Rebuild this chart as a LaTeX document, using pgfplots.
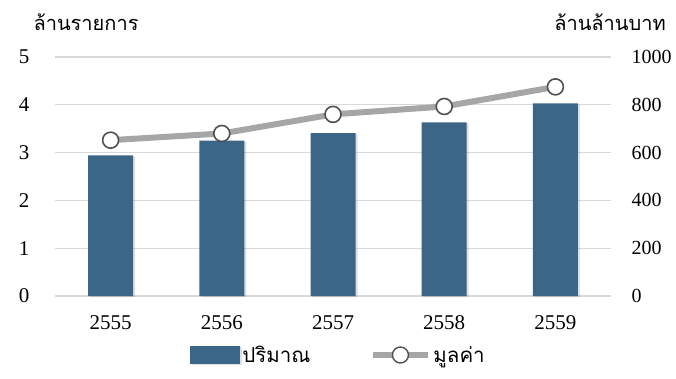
\documentclass[border=0pt]{standalone}
\usepackage{fontspec}
\setmainfont{Liberation Serif}
\newfontfamily\thai[Script=Thai]{Loma}
\usepackage{pgfplots}
\pgfplotsset{compat=1.18}
\usetikzlibrary{shadows}
\definecolor{barblue}{HTML}{3C6688}
\definecolor{linegray}{HTML}{A6A6A6}
\definecolor{gridgray}{HTML}{D9D9D9}
\definecolor{markgray}{HTML}{505050}
\begin{document}
\begin{tikzpicture}
\begin{axis}[
  scale only axis, width=556pt, height=239pt,
  xmin=-0.5, xmax=4.5, ymin=0, ymax=5,
  clip=false,
  axis line style={draw=none},
  xtick={0,1,2,3,4}, xticklabels={2555,2556,2557,2558,2559},
  ytick={0,1,2,3,4,5},
  tick style={draw=none},
  ymajorgrids, grid style={gridgray, line width=1.2pt},
  tick label style={font=\fontsize{21}{24}\selectfont},
  /pgf/number format/assume math mode=true,
  yticklabel style={xshift=-22pt},
  xticklabel style={yshift=-16pt},
  legend style={draw=none, fill=none, legend columns=2, at={(0.51,0)}, anchor=center, yshift=-59pt,
    font=\thai\fontsize{20.5}{23}\selectfont,
    /tikz/every even column/.append style={column sep=58pt}},
]
\addplot[ybar, bar width=45pt, fill=barblue, draw=none,
  drop shadow={shadow xshift=2pt, shadow yshift=-1pt, opacity=0.25},
  legend image code/.code={\fill[barblue] (0pt,-9pt) rectangle (50pt,9pt);}]
  coordinates {(0,2.94) (1,3.25) (2,3.41) (3,3.63) (4,4.03)};
\addlegendentry{ปริมาณ}
\addlegendimage{legend image code/.code={
  \draw[linegray, line width=6pt] (0pt,0pt) -- (55pt,0pt);
  \draw[fill=white, draw=markgray, line width=1.4pt] (27pt,0pt) circle (8pt);}}
\addlegendentry{มูลค่า}
\node[font=\thai\fontsize{20}{23}\selectfont] at ([xshift=31pt, yshift=35pt]rel axis cs:0,1) {ล้านรายการ};
\node[font=\thai\fontsize{20}{23}\selectfont] at ([xshift=-1pt, yshift=35pt]rel axis cs:1,1) {ล้านล้านบาท};
\end{axis}
\begin{axis}[
  scale only axis, width=556pt, height=239pt,
  xmin=-0.5, xmax=4.5, ymin=0, ymax=1000,
  clip=false,
  axis y line*=right, axis x line=none,
  axis line style={draw=none},
  ytick={0,200,400,600,800,1000},
  tick style={draw=none},
  tick label style={font=\fontsize{20}{23}\selectfont},
  /pgf/number format/assume math mode=true,
  /pgf/number format/1000 sep={},
  yticklabel style={anchor=west, xshift=17pt},
]
\addplot[linegray, line width=6pt, mark=*, mark size=8pt,
  mark options={fill=white, draw=markgray, line width=1.6pt}]
  coordinates {(0,652) (1,680) (2,760) (3,793) (4,875)};
\end{axis}
\pgfresetboundingbox
\path[use as bounding box] (-55pt,-82pt) rectangle (621pt,296pt);
\end{tikzpicture}
\end{document}
